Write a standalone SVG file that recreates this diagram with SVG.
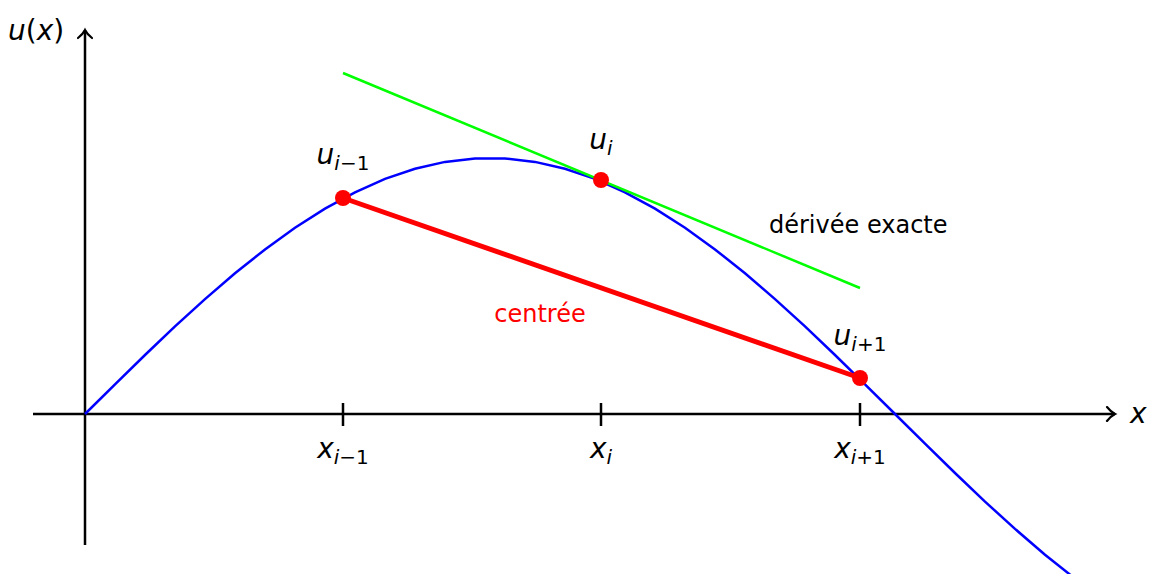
<svg xmlns="http://www.w3.org/2000/svg" width="1157" height="574" viewBox="0 0 1157 574">
<style>
.t{font-family:"DejaVu Sans",sans-serif;font-size:24px}
.m{font-family:"DejaVu Sans",sans-serif;font-size:28px;font-style:italic}
.s{font-size:20px}
.ax{stroke:#000;stroke-width:2.5;fill:none}
</style>
<defs>
<marker id="arr" markerWidth="14" markerHeight="16" refX="11" refY="8" orient="auto" markerUnits="userSpaceOnUse">
<path d="M3,1 Q7,6 11,8 Q7,10 3,15" fill="none" stroke="#000" stroke-width="2.2" stroke-linecap="round"/>
</marker>
</defs>
<rect width="1157" height="574" fill="#fff"/>
<g id="axes">
<line class="ax" x1="33" y1="414" x2="1115" y2="414" marker-end="url(#arr)"/>
<line class="ax" x1="85" y1="545" x2="85" y2="30" marker-end="url(#arr)"/>
<line class="ax" x1="343" y1="403" x2="343" y2="426"/>
<line class="ax" x1="601" y1="403" x2="601" y2="426"/>
<line class="ax" x1="860" y1="403" x2="860" y2="426"/>
</g>
<g id="connectors">
<polyline id="curve" fill="none" stroke="#0000ff" stroke-width="2.5" points="85,414 115,384.3 145,355 175,326.4 205,299.1 235,273.3 265,249.4 295,227.8 325,208.7 355,192.3 385,178.9 415,168.8 445,161.9 475,158.4 505,158.4 535,161.9 565,168.8 595,178.9 625,192.3 655,208.7 685,227.8 715,249.4 745,273.3 775,299.1 805,326.4 835,355 865,384.3 895,414 925,443.7 955,473 985,501.6 1015,528.9 1045,554.7 1075,578.6"/>
<line id="tangent" x1="343" y1="73" x2="860" y2="288" stroke="#00ff00" stroke-width="2.5"/>
<line id="centered" x1="343" y1="198" x2="860" y2="378" stroke="#ff0000" stroke-width="5"/>
</g>
<g id="points" fill="#ff0000">
<circle cx="343" cy="198" r="8"/>
<circle cx="601" cy="180" r="8"/>
<circle cx="860" cy="378" r="8"/>
</g>
<g id="labels">
<text x="8" y="40" class="m">u<tspan font-style="normal">(</tspan>x<tspan font-style="normal">)</tspan></text>
<text x="1130" y="423" class="m">x</text>
<text x="343" y="458" class="m" text-anchor="middle">x<tspan class="s" dy="6">i</tspan><tspan class="s" font-style="normal">−1</tspan></text>
<text x="601" y="458" class="m" text-anchor="middle">x<tspan class="s" dy="6">i</tspan></text>
<text x="860" y="458" class="m" text-anchor="middle">x<tspan class="s" dy="6">i</tspan><tspan class="s" font-style="normal">+1</tspan></text>
<text x="343" y="164" class="m" text-anchor="middle">u<tspan class="s" dy="6">i</tspan><tspan class="s" font-style="normal">−1</tspan></text>
<text x="601" y="149" class="m" text-anchor="middle">u<tspan class="s" dy="6">i</tspan></text>
<text x="860" y="345" class="m" text-anchor="middle">u<tspan class="s" dy="6">i</tspan><tspan class="s" font-style="normal">+1</tspan></text>
<text x="769" y="233" class="t">dérivée exacte</text>
<text x="540" y="322" class="t" fill="#ff0000" text-anchor="middle">centrée</text>
</g>
</svg>
